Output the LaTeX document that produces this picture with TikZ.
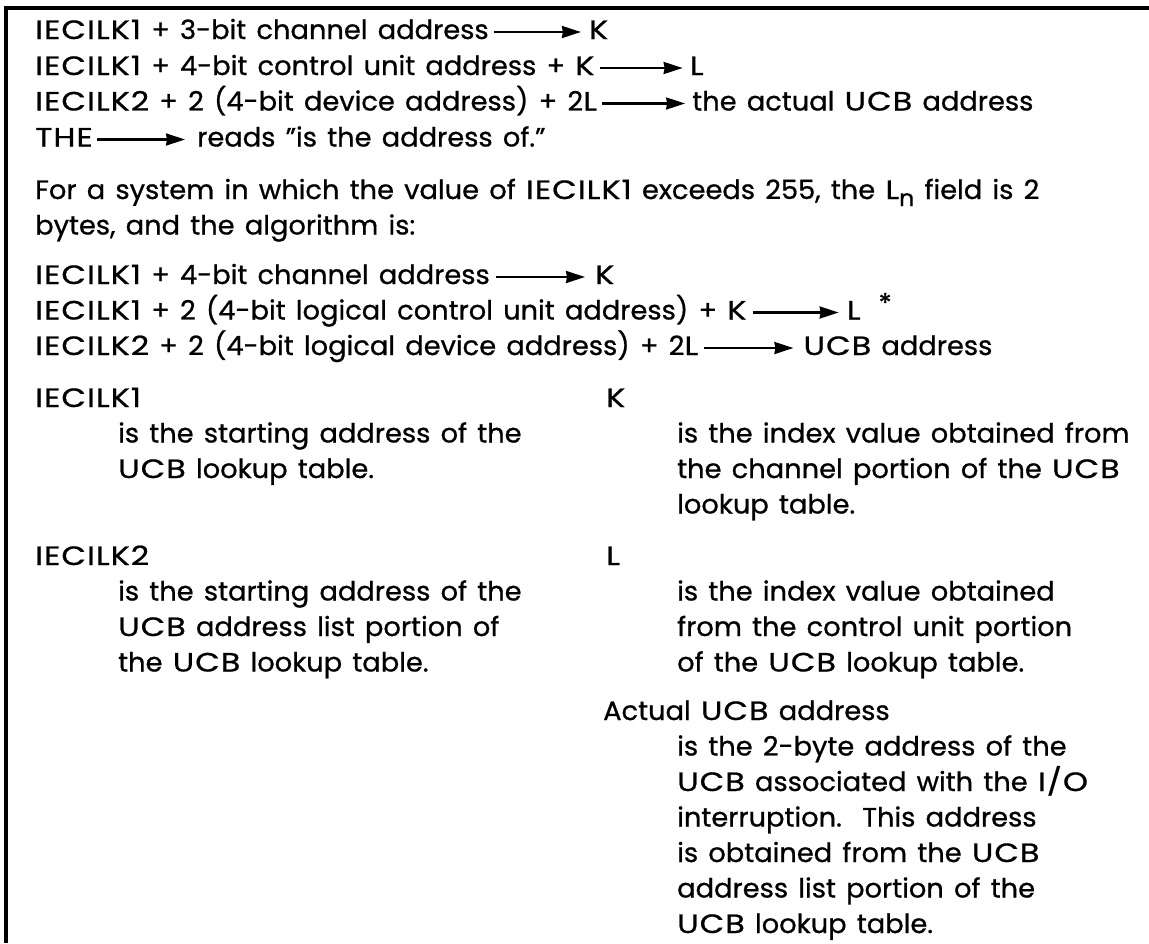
\documentclass[tikz,border=0pt]{standalone}
\usepackage{fontspec}
\setmainfont{Poppins}[WordSpace=1.4, FakeStretch=1.03, FakeBold=0.8]
\newfontfamily\capf{Poppins}[WordSpace=1.4, FakeStretch=1.2, FakeBold=0.8, LetterSpace=4]
\newcommand\cp[1]{{\capf #1}}
\usetikzlibrary{arrows.meta}
\tikzset{
  txt/.style={anchor=base west, inner sep=0pt, font=\fontsize{26.5}{30}\selectfont},
  arr/.style={line width=2.1pt, -{Stealth[length=19pt,width=12pt,inset=1pt]}},
  frame/.style={line width=3.5pt}
}
\begin{document}
\begin{tikzpicture}[x=1pt,y=-1pt]
\useasboundingbox (0,0) rectangle (1149,943);
\draw[frame] (6,943) -- (6,8) -- (1149,8);
% first algorithm
\node[txt] (a1) at (35,39) {\cp{IECILK1} + 3-bit channel address};
\node[txt] (a1r) at ([xshift=100pt]a1.base east) {\cp{K}};
\draw[arr] ([xshift=5pt,yshift=7pt]a1.base east) -- ([xshift=-8pt,yshift=7pt]a1r.base west);
\node[txt] (a2) at (35,75) {\cp{IECILK1} + 4-bit control unit address + \cp{K}};
\node[txt] (a2r) at ([xshift=95pt]a2.base east) {\cp{L}};
\draw[arr] ([xshift=5pt,yshift=7pt]a2.base east) -- ([xshift=-7pt,yshift=7pt]a2r.base west);
\node[txt] (a3) at (35,110.5) {\cp{IECILK2} + 2 (4-bit device address) + 2\cp{L}};
\node[txt] (a3r) at ([xshift=95pt]a3.base east) {the actual \cp{UCB} address};
\draw[arr] ([xshift=5pt,yshift=7pt]a3.base east) -- ([xshift=-7pt,yshift=7pt]a3r.base west);
\node[txt] (a4) at (35,146.5) {\cp{THE}};
\node[txt] (a4r) at ([xshift=104pt]a4.base east) {reads "is the address of."};
\draw[arr] ([xshift=4pt,yshift=7pt]a4.base east) -- ([xshift=-12pt,yshift=7pt]a4r.base west);
% paragraph
\node[txt] (p1) at (35,199) {For a system in which the value of \cp{IECILK1} exceeds 255, the \cp{L}\raisebox{-7pt}{\fontsize{23}{23}\selectfont n} field is 2};
\node[txt] (p2) at (35,234.5) {bytes, and the algorithm is:};
% second algorithm
\node[txt] (b1) at (35,284) {\cp{IECILK1} + 4-bit channel address};
\node[txt] (b1r) at ([xshift=105pt]b1.base east) {\cp{K}};
\draw[arr] ([xshift=6pt,yshift=7pt]b1.base east) -- ([xshift=-10pt,yshift=7pt]b1r.base west);
\node[txt] (b2) at (35,319.5) {\cp{IECILK1} + 2 (4-bit logical control unit address) + \cp{K}};
\node[txt] (b2r) at ([xshift=100pt]b2.base east) {\cp{L}\hspace{18pt}\raisebox{7pt}{*}};
\draw[arr] ([xshift=6pt,yshift=7pt]b2.base east) -- ([xshift=-8pt,yshift=7pt]b2r.base west);
\node[txt] (b3) at (35,355) {\cp{IECILK2} + 2 (4-bit logical device address) + 2\cp{L}};
\node[txt] (b3r) at ([xshift=105pt]b3.base east) {\cp{UCB} address};
\draw[arr] ([xshift=6pt,yshift=7pt]b3.base east) -- ([xshift=-10pt,yshift=7pt]b3r.base west);
% definitions, left column
\node[txt] (d1) at (35,407) {\cp{IECILK1}};
\node[txt] (d1a) at (118,442.5) {is the starting address of the};
\node[txt] (d1b) at (118,478) {\cp{UCB} lookup table.};
\node[txt] (d2) at (35,565) {\cp{IECILK2}};
\node[txt] (d2a) at (118,600.5) {is the starting address of the};
\node[txt] (d2b) at (118,636) {\cp{UCB} address list portion of};
\node[txt] (d2c) at (118,671.5) {the \cp{UCB} lookup table.};
% definitions, right column
\node[txt] (dk) at (606,407) {\cp{K}};
\node[txt] (dka) at (677,442.5) {is the index value obtained from};
\node[txt] (dkb) at (677,478) {the channel portion of the \cp{UCB}};
\node[txt] (dkc) at (677,513.5) {lookup table.};
\node[txt] (dl) at (606,565) {\cp{L}};
\node[txt] (dla) at (677,600.5) {is the index value obtained};
\node[txt] (dlb) at (677,636) {from the control unit portion};
\node[txt] (dlc) at (677,671.5) {of the \cp{UCB} lookup table.};
\node[txt] (da) at (603,720) {Actual \cp{UCB} address};
\node[txt] (daa) at (677,755.5) {is the 2-byte address of the};
\node[txt] (dab) at (677,791) {\cp{UCB} associated with the \cp{I/O}};
\node[txt] (dac) at (677,826.5) {interruption.\ \ This address};
\node[txt] (dad) at (677,862) {is obtained from the \cp{UCB}};
\node[txt] (dae) at (677,897.5) {address list portion of the};
\node[txt] (daf) at (677,933) {\cp{UCB} lookup table.};
\end{tikzpicture}
\end{document}
